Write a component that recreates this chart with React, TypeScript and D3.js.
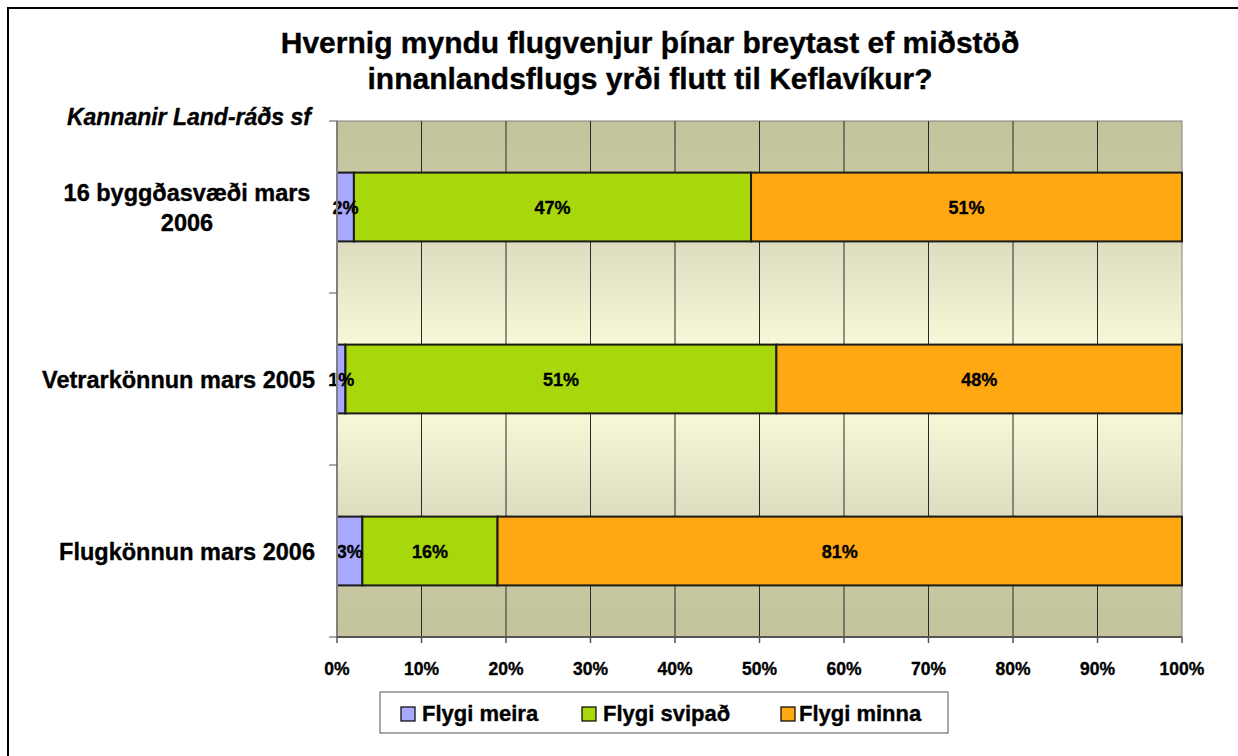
import React from "react";
import * as d3 from "d3";

const categories = [
  ["16 byggðasvæði mars", "2006"],
  ["Vetrarkönnun mars 2005"],
  ["Flugkönnun mars 2006"],
];
const seriesNames = ["Flygi meira", "Flygi svipað", "Flygi minna"];
const seriesColors = ["#A8A8FF", "#A8D80C", "#FFA812"];
const meira = [2, 1, 3];
const svipad = [47, 51, 16];
const minna = [51, 48, 81];
const xTicks = [0, 10, 20, 30, 40, 50, 60, 70, 80, 90, 100];
const titleLines = [
  "Hvernig myndu flugvenjur þínar breytast ef miðstöð",
  "innanlandsflugs yrði flutt til Keflavíkur?",
];
const subtitle = "Kannanir Land-ráðs sf";

const FONT = "'Liberation Sans', Arial, sans-serif";
const bold = { stroke: "#000", strokeWidth: 0.35 };

export default function App() {
  const W = 1238, H = 756;
  const left = 337, right = 1182, top = 121, bottom = 637;
  const x = d3.scaleLinear().domain([0, 100]).range([left, right]);
  const y = d3
    .scaleBand<number>()
    .domain(categories.map((_, i) => i))
    .range([top, bottom])
    .paddingInner(0.6)
    .paddingOuter(0.3);
  const band = (bottom - top) / categories.length;
  const series = [meira, svipad, minna];
  const rows = categories.map((c, i) => {
    let acc = 0;
    return series.map((s, k) => {
      const v = s[i];
      const seg = { k, x0: acc, x1: acc + v, v };
      acc += v;
      return seg;
    });
  });
  const legendSq = [401, 582, 781];
  const legendTx = [422, 603, 799];

  return (
    <svg width={W} height={H} style={{ position: "absolute", left: 0, top: 0 }}>
      <defs>
        <linearGradient id="bg" x1="0" y1="0" x2="0" y2="1">
          <stop offset="0" stopColor="#C3C39C" />
          <stop offset="0.1" stopColor="#C6C6A0" />
          <stop offset="0.24" stopColor="#DEDDBF" />
          <stop offset="0.44" stopColor="#F9F9DA" />
          <stop offset="0.5" stopColor="#FBFBE0" />
          <stop offset="0.56" stopColor="#F9F9DA" />
          <stop offset="0.76" stopColor="#DEDDBF" />
          <stop offset="0.9" stopColor="#C6C6A0" />
          <stop offset="1" stopColor="#C3C39C" />
        </linearGradient>
      </defs>
      <rect x={0} y={0} width={W} height={H} fill="#fff" />
      <rect x={8} y={8} width={W + 10} height={H + 10} fill="none" stroke="#000" strokeWidth={2} />

      {titleLines.map((t, i) => (
        <text key={i} x={650} y={53 + i * 36} textAnchor="middle" fontFamily={FONT} fontWeight="bold" fontSize={30} fill="#000" {...bold}>
          {t}
        </text>
      ))}
      <text x={311} y={125} textAnchor="end" fontFamily={FONT} fontWeight="bold" fontStyle="italic" fontSize={23} fill="#000" {...bold}>
        {subtitle}
      </text>

      <rect x={left} y={top} width={right - left} height={bottom - top} fill="url(#bg)" stroke="#808080" strokeWidth={1} />
      {xTicks.slice(1, -1).map((t) => (
        <line key={t} x1={x(t)} x2={x(t)} y1={top} y2={bottom} stroke="#2a2a2a" strokeWidth={1} />
      ))}

      {rows.map((segs, i) =>
        segs.map((s) => (
          <rect
            key={i + "-" + s.k}
            x={x(s.x0)}
            y={y(i)!}
            width={x(s.x1) - x(s.x0)}
            height={y.bandwidth()}
            fill={seriesColors[s.k]}
            stroke="#1a1a1a"
            strokeWidth={2}
          />
        ))
      )}
      {rows.map((segs, i) =>
        segs.map((s) => (
          <text
            key={"l" + i + "-" + s.k}
            x={(x(s.x0) + x(s.x1)) / 2}
            y={y(i)! + y.bandwidth() / 2 + 6.5}
            textAnchor="middle"
            fontFamily={FONT}
            fontWeight="bold"
            fontSize={18}
            fill="#000"
            {...bold}
          >
            {s.v + "%"}
          </text>
        ))
      )}

      {/* axes */}
      <line x1={left} x2={left} y1={top} y2={bottom} stroke="#808080" strokeWidth={2} />
      <line x1={left} x2={right} y1={bottom} y2={bottom} stroke="#555" strokeWidth={2} />
      {d3.range(categories.length + 1).map((i) => (
        <line key={"yt" + i} x1={left - 8} x2={left} y1={top + i * band} y2={top + i * band} stroke="#555" strokeWidth={1} />
      ))}
      {xTicks.map((t) => (
        <g key={"xt" + t}>
          <line x1={x(t)} x2={x(t)} y1={bottom} y2={bottom + 6} stroke="#555" strokeWidth={1.5} />
          <text x={x(t)} y={675} textAnchor="middle" fontFamily={FONT} fontWeight="bold" fontSize={17.5} fill="#000" {...bold}>
            {t + "%"}
          </text>
        </g>
      ))}

      {categories.map((lines, i) => {
        const cy = y(i)! + y.bandwidth() / 2;
        const lh = 30;
        const y0 = cy - ((lines.length - 1) * lh) / 2 + 9;
        return (
          <text key={"c" + i} fontFamily={FONT} fontWeight="bold" fontSize={23.5} fill="#000" {...bold}>
            {lines.map((l, j) => (
              <tspan key={j} x={lines.length > 1 ? 187 : 315} y={y0 + j * lh} textAnchor={lines.length > 1 ? "middle" : "end"}>
                {l}
              </tspan>
            ))}
          </text>
        );
      })}

      {/* legend */}
      <rect x={380} y={692} width={568} height={41} fill="#fff" stroke="#555" strokeWidth={1} />
      {seriesNames.map((n, k) => (
        <g key={"lg" + k}>
          <rect x={legendSq[k]} y={707} width={14} height={14} fill={seriesColors[k]} stroke="#000" strokeWidth={1.2} />
          <text x={legendTx[k]} y={721} fontFamily={FONT} fontWeight="bold" fontSize={22} fill="#000" {...bold}>
            {n}
          </text>
        </g>
      ))}
    </svg>
  );
}
